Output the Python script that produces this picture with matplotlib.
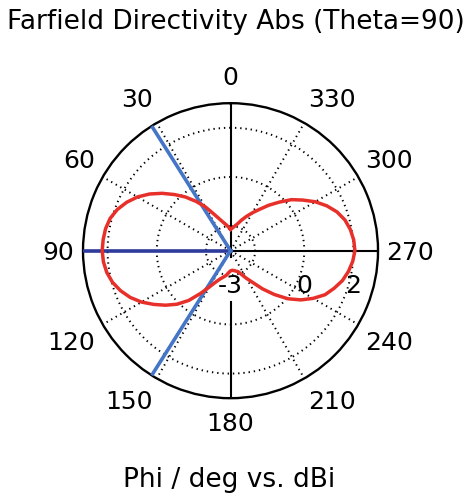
import numpy as np
import matplotlib
matplotlib.use("Agg")
import matplotlib.pyplot as plt

plt.rcParams['font.family'] = ['DejaVu Sans']

# Farfield directivity (dBi) versus phi, sampled every 5 degrees
phi_deg = list(range(0, 361, 5))
directivity_dbi = [
    -2.13, -2.03, -1.92, -1.79, -1.60, -1.33, -0.93, -0.55, -0.15, 0.23,   # 0..45
    0.63, 1.02, 1.37, 1.66, 1.90, 2.07, 2.16, 2.20, 2.22,                 # 50..90
    2.19, 2.11, 1.97, 1.76, 1.50, 1.18, 0.81, 0.45, 0.08, -0.36,          # 95..140
    -0.88, -1.31, -1.60, -1.78, -1.89, -1.98, -2.10, -2.18,               # 145..180
    -2.20, -2.18, -2.14, -2.09, -1.93, -1.70, -1.42, -0.97, -0.48, 0.04,  # 185..230
    0.49, 0.88, 1.24, 1.48, 1.71, 1.87, 1.99, 2.06,                       # 235..270
    2.03, 1.95, 1.82, 1.61, 1.32, 0.98, 0.59, 0.23, -0.21, -0.59,         # 275..320
    -0.95, -1.22, -1.46, -1.67, -1.86, -1.98, -2.07, -2.13,               # 325..360
]

# Main lobe direction and 3 dB beamwidth edges (deg)
main_lobe_deg = 90.0
beam_edges_deg = [32.3, 147.7]

# Radial scale (dBi)
r_min, r_max = -3.0, 3.0
ring_values = [-2.0, 0.0, 2.0]
radial_labels = [(-3.0, "-3"), (0.0, "0"), (2.0, "2")]
angle_ticks = list(range(0, 360, 30))

title = "Farfield Directivity Abs (Theta=90)"
xlabel = "Phi / deg vs. dBi"

fig = plt.figure(figsize=(4.73, 4.97), dpi=100)
ax = fig.add_axes([0.1755, 0.1988, 0.6237, 0.5936], projection='polar')
ax.set_theta_zero_location('N')
ax.set_theta_direction(1)
ax.set_rlim(r_min, r_max)
ax.grid(False)
ax.set_xticks([])
ax.set_yticks([])
ax.spines['polar'].set_linewidth(1.7)
ax.spines['polar'].set_color('black')

full = np.linspace(0, 2 * np.pi, 361)
dotted = dict(color='black', lw=1.4, linestyle=(0, (0.7, 2.0)), zorder=1)

# dotted rings
for rv in ring_values:
    ax.plot(full, np.full_like(full, rv), **dotted)

# dotted spokes every 30 degrees, solid ones on the main axes
for a in angle_ticks:
    t = np.deg2rad(a)
    if a % 90:
        ax.plot([t, t], [r_min, r_max], **dotted)
for a in (0, 90, 270):
    t = np.deg2rad(a)
    ax.plot([t, t], [r_min, r_max], color='black', lw=1.5, zorder=2)
t180 = np.deg2rad(180)
ax.plot([t180, t180], [r_min, -2.75], color='black', lw=1.5, zorder=2)
ax.plot([t180, t180], [-0.9, r_max], color='black', lw=1.5, zorder=2)

# angle labels: the label corner nearest the plot sits on an ellipse
# slightly outside the rim (offsets in pixels from the pole)
gap_x, gap_up, gap_down = 156, 166, 161
for a in angle_ticks:
    t = np.deg2rad(a)
    ux, uy = -np.sin(t), np.cos(t)
    ha = 'center' if abs(ux) < 0.1 else ('right' if ux < 0 else 'left')
    va = 'center_baseline' if abs(uy) < 0.1 else ('baseline' if uy > 0 else 'top')
    gap_y = gap_up if uy > 0 else gap_down
    ax.annotate(str(a), xy=(0, r_min), xytext=(ux * gap_x, uy * gap_y),
                textcoords='offset pixels', ha=ha, va=va,
                fontsize=18, annotation_clip=False)

# radial value labels, just below the 270 degree axis
t270 = np.deg2rad(270)
for rv, txt in radial_labels:
    ax.annotate(txt, xy=(t270, rv), xytext=(0, -33), textcoords='offset pixels',
                ha='center', va='center_baseline', fontsize=18, color='black',
                zorder=3)

# pattern
theta = np.deg2rad(phi_deg)
ax.plot(theta, directivity_dbi, color='#e8302a', lw=2.5, zorder=5)

# main lobe and beamwidth markers
tm = np.deg2rad(main_lobe_deg)
ax.plot([tm, tm], [r_min, r_max], color='#2e3a9c', lw=2.6, zorder=4)
for b in beam_edges_deg:
    tb = np.deg2rad(b)
    ax.plot([tb, tb], [r_min, r_max], color='#4575c6', lw=2.6, zorder=4)

fig.text(0.499, 0.955, title, ha='center', va='center', fontsize=19)
fig.text(0.485, 0.034, xlabel, ha='center', va='center', fontsize=19)

fig.savefig('out.png', dpi=100, facecolor='white')
